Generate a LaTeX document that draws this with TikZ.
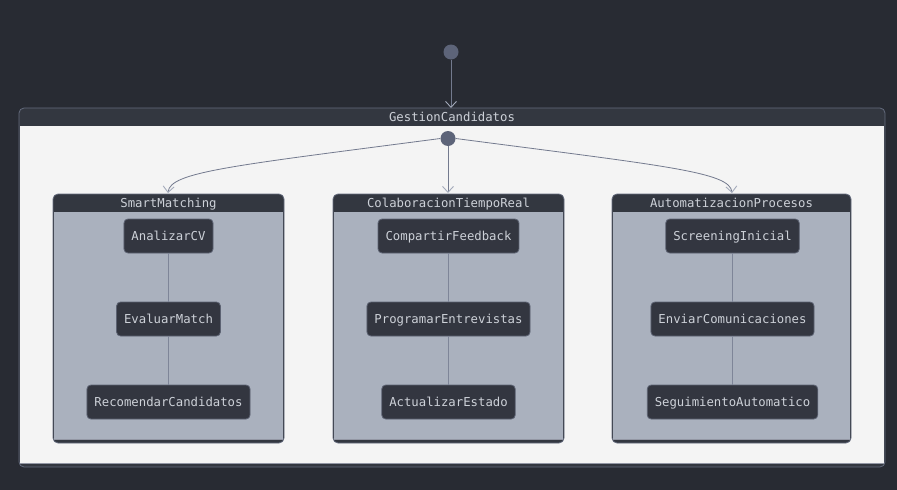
\documentclass[tikz,border=0pt]{standalone}
\usepackage{fontspec}
\setmonofont{DejaVu Sans Mono}
\usetikzlibrary{arrows.meta,calc}
\definecolor{bgdark}{HTML}{282B33}
\definecolor{hdr}{HTML}{333740}
\definecolor{frame}{HTML}{646B7D}
\definecolor{outerbody}{HTML}{F4F4F4}
\definecolor{compbody}{HTML}{AAB1BE}
\definecolor{statefill}{HTML}{333640}
\definecolor{stateedge}{HTML}{5C6272}
\definecolor{txt}{HTML}{CDD1D8}
\definecolor{edge}{HTML}{737A8E}
\definecolor{tip}{HTML}{A3AABA}
\definecolor{dot}{HTML}{5D6479}
\tikzset{
  x=1pt, y=-1pt,
  lbl/.style={font=\ttfamily\fontsize{12.3}{14}\selectfont, text=txt, inner sep=0pt,
    text height=10pt, text depth=1.6pt},
  statebox/.style={draw=stateedge, line width=0.8pt, fill=statefill, rounded corners=4pt,
    font=\ttfamily\fontsize{12.3}{14}\selectfont, text=txt, minimum height=34pt, inner xsep=7.5pt,
    text height=10pt, text depth=1.6pt},
  startdot/.style={circle, fill=dot, minimum size=15pt, inner sep=0pt},
  trans/.style={draw=edge, line width=0.8pt, -{Straight Barb[length=6pt,width=11pt,color=tip,line width=0.9pt]}},
  link/.style={draw=edge!80!compbody, line width=0.8pt},
}
\newcommand{\compositebox}[6]{%
  % #1 name, #2 x0, #3 y0, #4 x1, #5 y1, #6 body colour
  \fill[hdr, rounded corners=5pt] (#2,#3) rectangle (#4,#5);
  \draw[frame, line width=0.8pt, rounded corners=5pt] (#2,#3) rectangle (#4,#5);
  \fill[#6] ($(#2,#3)+(0.8,18)$) rectangle ($(#4,#5)+(-0.8,-4)$);
  \draw[frame!70!white, line width=0.6pt] ($(#2,#5)+(0.8,-4)$) -- ($(#4,#5)+(-0.8,-4)$);
}
\begin{document}
\begin{tikzpicture}
\useasboundingbox (0,0) rectangle (897,490);
\fill[bgdark] (0,0) rectangle (897,490);

% outer composite state
\compositebox{GestionCandidatos}{19}{108}{885}{467}{outerbody}
\node[lbl] (tGC) at (452,117.5) {GestionCandidatos};
\coordinate (GC) at (451,108);

% the three inner composite states
\compositebox{SmartMatching}{53}{194}{284}{443}{compbody}
\node[lbl] (tSM) at (168.5,203.5) {SmartMatching};
\coordinate (SM) at (168,193);

\compositebox{Colaboracion}{333}{194}{564}{443}{compbody}
\node[lbl] (tCT) at (448.5,203.5) {ColaboracionTiempoReal};
\coordinate (CT) at (448,193);

\compositebox{Automatizacion}{612}{194}{851}{443}{compbody}
\node[lbl] (tAP) at (731.5,203.5) {AutomatizacionProcesos};
\coordinate (AP) at (732,193);

% start markers
\node[startdot] (s0) at (451,52) {};
\node[startdot] (s1) at (448,138.5) {};

\draw[trans] (s0) -- (GC);
\draw[trans] (s1.west) .. controls (230,166) and (170,172) .. (SM);
\draw[trans] (s1) -- (CT);
\draw[trans] (s1.east) .. controls (666,166) and (730,172) .. (AP);

% SmartMatching states
\node[statebox] (a1) at (168.5,236) {AnalizarCV};
\node[statebox] (a2) at (168.5,319) {EvaluarMatch};
\node[statebox] (a3) at (168.5,402) {RecomendarCandidatos};
\draw[link] (a1) -- (a2);
\draw[link] (a2) -- (a3);

% ColaboracionTiempoReal states
\node[statebox] (b1) at (448.5,236) {CompartirFeedback};
\node[statebox] (b2) at (448.5,319) {ProgramarEntrevistas};
\node[statebox] (b3) at (448.5,402) {ActualizarEstado};
\draw[link] (b1) -- (b2);
\draw[link] (b2) -- (b3);

% AutomatizacionProcesos states
\node[statebox] (c1) at (732.5,236) {ScreeningInicial};
\node[statebox] (c2) at (732.5,319) {EnviarComunicaciones};
\node[statebox] (c3) at (732.5,402) {SeguimientoAutomatico};
\draw[link] (c1) -- (c2);
\draw[link] (c2) -- (c3);
\end{tikzpicture}
\end{document}
